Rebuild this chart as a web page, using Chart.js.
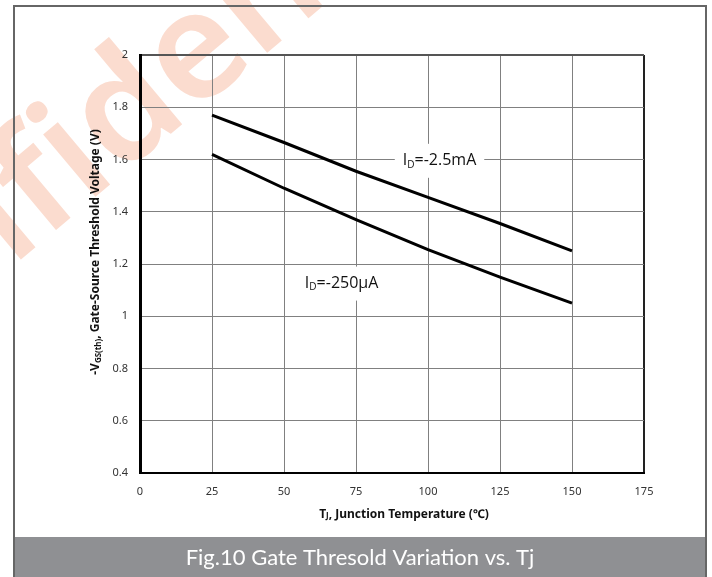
<!DOCTYPE html>
<html>
<head>
<meta charset="utf-8">
<script src="https://cdn.jsdelivr.net/npm/chart.js@4.4.0/dist/chart.umd.min.js"></script>
<style>
  html, body { margin: 0; padding: 0; background: #fff; }
  #wrap { width: 712px; height: 577px; position: relative; }
</style>
</head>
<body>
<div id="wrap"><canvas id="chart" width="712" height="577"></canvas></div>
<script>
// -------------------- Data --------------------
const tempC = [25, 50, 75, 100, 125, 150];
const vth2p5mA = [1.77, 1.665, 1.555, 1.455, 1.355, 1.25];
const vth250uA = [1.62, 1.49, 1.37, 1.255, 1.15, 1.05];
const xTicks = [0, 25, 50, 75, 100, 125, 150, 175];
const yTicks = [0.4, 0.6, 0.8, 1, 1.2, 1.4, 1.6, 1.8, 2];
const seriesNames = ['-2.5mA', '-250μA'];
const captionText = 'Fig.10 Gate Thresold Variation vs. Tj';

// -------------------- Text helpers --------------------
// parts: [{t, font, dy}] drawn left to right on one baseline
function richWidth(ctx, parts) {
  let w = 0;
  parts.forEach(p => { ctx.font = p.font; w += ctx.measureText(p.t).width; });
  return w;
}
function drawRich(ctx, parts, cx, cy) {
  const w = richWidth(ctx, parts);
  let x = cx - w / 2;
  ctx.textBaseline = 'middle';
  ctx.textAlign = 'left';
  parts.forEach(p => {
    ctx.font = p.font;
    ctx.fillText(p.t, x, cy + (p.dy || 0));
    x += ctx.measureText(p.t).width;
  });
  return w;
}

// -------------------- Decorations --------------------
const decorations = {
  id: 'decorations',
  beforeDraw(chart) {
    const ctx = chart.ctx;
    ctx.save();
    ctx.fillStyle = '#fff';
    ctx.fillRect(0, 0, chart.width, chart.height);

    // watermark
    ctx.save();
    ctx.fillStyle = '#fbdccf';
    ctx.font = '600 150px "Noto Sans"';
    ctx.textBaseline = 'alphabetic';
    ctx.translate(44, 240);
    ctx.rotate(-40 * Math.PI / 180);
    const pre = ctx.measureText('Con').width;
    ctx.fillText('Confidential', -pre, 0);
    ctx.restore();

    // outer frame
    ctx.strokeStyle = '#666';
    ctx.lineWidth = 2;
    ctx.beginPath();
    ctx.moveTo(14, 580);
    ctx.lineTo(14, 6);
    ctx.lineTo(706, 6);
    ctx.lineTo(706, 580);
    ctx.stroke();

    // caption bar
    ctx.fillStyle = '#8f9093';
    ctx.fillRect(15, 537, 690, 40);
    ctx.fillStyle = '#fff';
    ctx.font = '22px Lato';
    ctx.textAlign = 'center';
    ctx.textBaseline = 'middle';
    ctx.fillText(captionText, 360, 558);
    ctx.restore();
  },
  afterDraw(chart) {
    const ctx = chart.ctx;
    const { x, y } = chart.scales;
    const area = chart.chartArea;
    ctx.save();
    ctx.fillStyle = '#111';

    // y title
    ctx.save();
    ctx.translate(96, (area.top + area.bottom) / 2 - 12);
    ctx.rotate(-Math.PI / 2);
    drawRich(ctx, [
      { t: '-V', font: 'bold 12px "Noto Sans"' },
      { t: 'GS(th)', font: 'bold 8px "Noto Sans"', dy: 3 },
      { t: ', Gate-Source Threshold Voltage (V)', font: 'bold 12px "Noto Sans"' }
    ], 0, 0);
    ctx.restore();

    // x title
    drawRich(ctx, [
      { t: 'T', font: 'bold 12px "Noto Sans"' },
      { t: 'J', font: 'bold 8px "Noto Sans"', dy: 1 },
      { t: ', Junction Temperature (℃)', font: 'bold 12px "Noto Sans"' }
    ], 404, 515);

    // curve labels with white boxes
    const labels = [
      { name: seriesNames[0], vx: 104, vy: 1.595 },
      { name: seriesNames[1], vx: 70, vy: 1.125 }
    ];
    labels.forEach(l => {
      const parts = [
        { t: 'I', font: '16px "Open Sans"' },
        { t: 'D', font: '10px "Open Sans"', dy: 4 },
        { t: '=' + l.name, font: '16px "Open Sans"' }
      ];
      const px = x.getPixelForValue(l.vx);
      const py = y.getPixelForValue(l.vy);
      const w = richWidth(ctx, parts);
      ctx.fillStyle = '#fff';
      ctx.fillRect(px - w / 2 - 8, py - 17, w + 16, 34);
      ctx.fillStyle = '#111';
      drawRich(ctx, parts, px, py);
    });
    ctx.restore();
  }
};

// -------------------- Chart --------------------
const fmt = v => String(Math.round(v * 10) / 10);
const ctx = document.getElementById('chart').getContext('2d');
new Chart(ctx, {
  type: 'line',
  data: {
    datasets: [
      {
        label: 'ID=' + seriesNames[0],
        data: tempC.map((t, i) => ({ x: t, y: vth2p5mA[i] })),
        borderColor: '#000',
        borderWidth: 3,
        pointRadius: 0,
        tension: 0
      },
      {
        label: 'ID=' + seriesNames[1],
        data: tempC.map((t, i) => ({ x: t, y: vth250uA[i] })),
        borderColor: '#000',
        borderWidth: 3,
        pointRadius: 0,
        tension: 0
      }
    ]
  },
  options: {
    responsive: false,
    animation: false,
    devicePixelRatio: 1,
    layout: { padding: { left: 0, top: 55, right: 68, bottom: 55 } },
    plugins: {
      legend: { display: false },
      tooltip: { enabled: false }
    },
    scales: {
      x: {
        type: 'linear',
        min: 0,
        max: 175,
        afterBuildTicks: s => { s.ticks = xTicks.map(v => ({ value: v })); },
        afterFit: s => { s.height = 49; },
        ticks: { color: '#333', font: { family: '"Noto Sans"', size: 11 }, padding: 12, maxRotation: 0, callback: fmt },
        grid: {
          drawTicks: false,
          color: c => c.tick.value === 0 ? 'rgba(0,0,0,0)' : (c.tick.value === 175 ? '#222' : '#808080'),
          lineWidth: c => c.tick.value === 175 ? 2 : 1
        },
        border: { color: '#000', width: 2 }
      },
      y: {
        min: 0.4,
        max: 2,
        afterBuildTicks: s => { s.ticks = yTicks.map(v => ({ value: v })); },
        afterFit: s => { s.width = 140; },
        ticks: { color: '#333', font: { family: '"Noto Sans"', size: 11 }, padding: 12, callback: fmt },
        grid: {
          drawTicks: false,
          color: c => c.tick.value === 0.4 ? 'rgba(0,0,0,0)' : (c.tick.value === 2 ? '#555' : '#808080'),
          lineWidth: c => c.tick.value === 2 ? 2 : 1
        },
        border: { color: '#000', width: 3 }
      }
    }
  },
  plugins: [decorations]
});
</script>
</body>
</html>
